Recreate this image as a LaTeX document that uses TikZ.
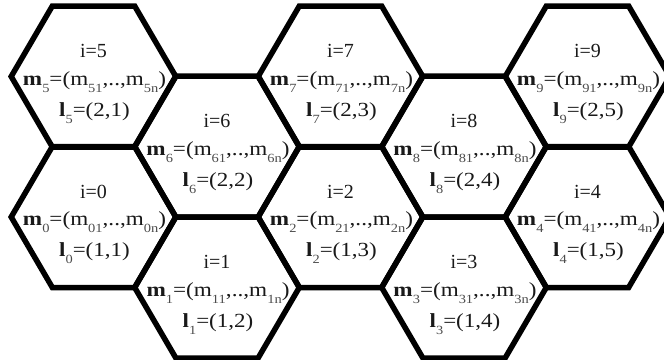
\documentclass[tikz,border=0pt]{standalone}
\usepackage{fontspec}
\setmainfont{Liberation Serif}
\newcommand\sbs[1]{\raisebox{-0.36em}{\fontsize{12.5}{12.5}\selectfont\color{black!70}#1}}
\tikzset{
  hexline/.style={line width=5.5pt, line join=miter},
  lab/.style={anchor=base, inner sep=0pt, font=\fontsize{20}{20}\selectfont, text=black!90}
}
\newcommand\hexcell[6]{%
  \draw[hexline] (#2-82.3,#3) -- (#2-41.15,#3-70.5) -- (#2+41.15,#3-70.5) -- (#2+82.3,#3) -- (#2+41.15,#3+70.5) -- (#2-41.15,#3+70.5) -- cycle;
  \node[lab] (i#1) at (#2,#3-19) {i=#4};
  \node[lab] (m#1) at (#2+1,#3+8.5) {\resizebox{143pt}{\height}{\textbf{m}\sbs{#4}=(m\sbs{#41},..,m\sbs{#4n})}};
  \node[lab] (l#1) at (#2+1,#3+39.5) {\scalebox{1.15}[1]{\textbf{l}\sbs{#4}=(#5,#6)}};
}
\begin{document}
\begin{tikzpicture}[x=1pt,y=-1pt]
\useasboundingbox (0,0) rectangle (664,359);
\fill[white] (0,0) rectangle (664,359);
\hexcell{5}{93.5}{76.5}{5}{2}{1}
\hexcell{0}{93.5}{217}{0}{1}{1}
\hexcell{6}{217}{146.5}{6}{2}{2}
\hexcell{1}{217}{287.5}{1}{1}{2}
\hexcell{7}{340.5}{76.5}{7}{2}{3}
\hexcell{2}{340.5}{217}{2}{1}{3}
\hexcell{8}{464}{146.5}{8}{2}{4}
\hexcell{3}{464}{287.5}{3}{1}{4}
\hexcell{9}{587.5}{76.5}{9}{2}{5}
\hexcell{4}{587.5}{217}{4}{1}{5}
\end{tikzpicture}
\end{document}
